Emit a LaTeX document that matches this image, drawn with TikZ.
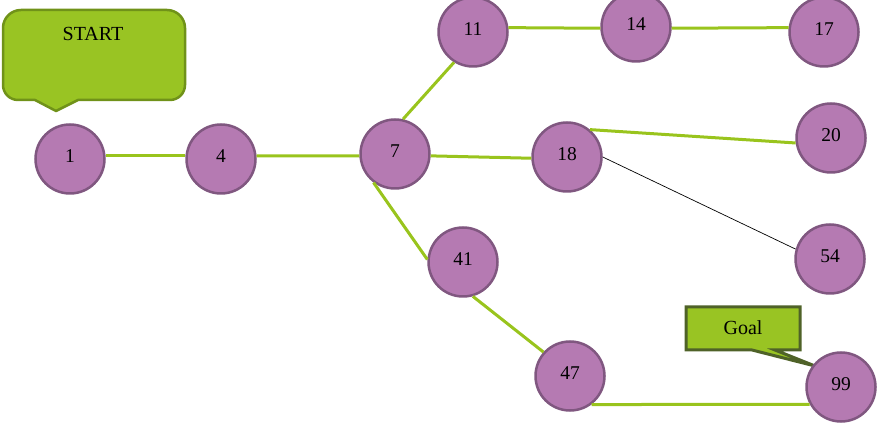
\documentclass[tikz,border=0pt]{standalone}
\usepackage{fontspec}
\setmainfont{Liberation Serif}
\definecolor{cfill}{RGB}{181,122,178}
\definecolor{cdraw}{RGB}{128,87,128}
\definecolor{lgreen}{RGB}{153,196,29}
\definecolor{sfill}{RGB}{153,196,35}
\definecolor{sdraw}{RGB}{112,146,25}
\definecolor{gdraw}{RGB}{79,98,40}
\begin{document}
\begin{tikzpicture}[x=1pt,y=1pt,
  circ/.style={circle,fill=cfill,draw=cdraw,line width=2.5pt,minimum size=69pt,inner sep=0pt,font=\fontsize{19.5}{21}\selectfont},
  edge/.style={draw=lgreen,line width=3pt},
  thin edge/.style={draw=black,line width=0.7pt},
  lbl/.style={font=\fontsize{20}{22}\selectfont,inner sep=0pt}]
\useasboundingbox (0,0) rectangle (890,441);
% START callout
\draw[fill=sfill,draw=sdraw,line width=2.5pt,line join=round]
  (56,330) -- (35,341) -- (18,341) arc[start angle=270,end angle=180,radius=15]
  -- (3,413) arc[start angle=180,end angle=90,radius=18]
  -- (167,431) arc[start angle=90,end angle=0,radius=18]
  -- (185,356) arc[start angle=0,end angle=-90,radius=15]
  -- (78,341) -- cycle;
\node[lbl] (start) at (93,407) {START};
% Goal callout
\draw[fill=sfill,draw=gdraw,line width=3pt,line join=miter]
  (686,91) -- (752,91) -- (815,75) -- (775,91) -- (800,91) -- (800,134) -- (686,134) -- cycle;
\node[lbl] (goal) at (743,113) {Goal};
% nodes
\node[circ] (n1) at (70,282) {\raisebox{6pt}{1}};
\node[circ] (n4) at (221,282) {\raisebox{6pt}{4}};
\node[circ] (n7) at (395,287) {\raisebox{6pt}{7}};
\node[circ] (n11) at (473,409) {\raisebox{6pt}{11}};
\node[circ] (n14) at (636,414) {\raisebox{6pt}{14}};
\node[circ] (n17) at (824,409) {\raisebox{6pt}{17}};
\node[circ] (n18) at (567,284) {\raisebox{6pt}{18}};
\node[circ] (n20) at (831,303) {\raisebox{6pt}{20}};
\node[circ] (n54) at (830,182) {\raisebox{6pt}{54}};
\node[circ] (n41) at (463,179) {\raisebox{6pt}{41}};
\node[circ] (n47) at (570,65) {\raisebox{6pt}{47}};
\node[circ] (n99) at (841,54) {\raisebox{6pt}{99}};
% edges
\draw[edge] (n1.5) -- (n4.175);
\draw[edge] (n4.5) -- (n7.183);
\draw[edge] (n7.77) -- (n11.238);
\draw[edge] (n7.357) -- (n18.182);
\draw[edge] (n7.233) -- (n41.176);
\draw[edge] (n41.286) -- (n47.138);
\draw[edge] (n47.307) -- (n99.209);
\draw[edge] (n11.7) -- (n14.182);
\draw[edge] (n14.358) -- (n17.173);
\draw[edge] (n18.50) -- (n20.188);
\draw[thin edge] (n18.0) -- (n54.164);
\end{tikzpicture}
\end{document}
